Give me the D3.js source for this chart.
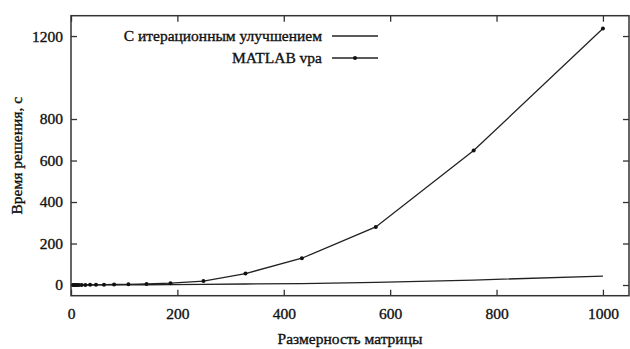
<!DOCTYPE html>
<html>
<head>
    <meta charset="utf-8">
    <style>
        body { margin: 0; background: white; }
        .axis path { display: none; }
        .axis line { stroke: #333; stroke-width: 1.3; }
    </style>
</head>
<body>
    <svg width="630" height="349"></svg>
<script src="https://d3js.org/d3.v7.min.js"></script>
<script>
    // matrix sizes and solve times (seconds)
    let sizes = [4, 5, 7, 9, 12, 15, 20, 27, 36, 47, 62, 81, 108, 142, 187, 249, 328, 434, 573, 757, 1000]
    let vpaTimes = [0.1, 0.1, 0.1, 0.2, 0.2, 0.3, 0.4, 0.5, 0.7, 1, 1.5, 2.5, 3.5, 5, 9, 19, 55, 129, 280, 648, 1236]
    let iterTimes = [0, 0, 0, 0, 0, 0, 0.1, 0.1, 0.1, 0.2, 0.3, 0.5, 0.8, 1.2, 2, 3, 5, 7, 13, 24, 43]
    let xTicks = [0, 200, 400, 600, 800, 1000]
    let yTicks = [0, 200, 400, 600, 800, 1200]
    let seriesNames = ["С итерационным улучшением", "MATLAB vpa"]

    let font = "Liberation Serif"
    let mLeft = 71, mRight = 629, mTop = 15.7, mBottom = 295.7
    let svg = d3.select("svg")

    let x = d3.scaleLinear().domain([0, 1049]).range([mLeft, mRight])
    let y = d3.scaleLinear().domain([-51.5, 1298]).range([mBottom, mTop])

    // scanned-looking text: serif, slightly heavy
    function styleText(sel) {
        sel.style("font-family", font).style("font-size", "15.5px")
            .style("fill", "#111").style("stroke", "#111").style("stroke-width", 0.35)
    }

    // axes with inward ticks
    let axes = [
        svg.append("g").attr("transform", `translate(0,${mBottom})`)
            .call(d3.axisBottom(x).tickValues(xTicks).tickSize(-6).tickPadding(12).tickFormat(d3.format("d"))),
        svg.append("g").attr("transform", `translate(0,${mTop})`)
            .call(d3.axisTop(x).tickValues(xTicks).tickSize(-6).tickFormat("")),
        svg.append("g").attr("transform", `translate(${mLeft},0)`)
            .call(d3.axisLeft(y).tickValues(yTicks).tickSize(-6).tickPadding(8).tickFormat(d3.format("d"))),
        svg.append("g").attr("transform", `translate(${mRight},0)`)
            .call(d3.axisRight(y).tickValues(yTicks).tickSize(-6).tickFormat(""))
    ]
    axes.forEach(g => {
        g.attr("class", "axis")
        g.selectAll("text").call(styleText)
    })

    svg.append("rect")
        .attr("x", mLeft).attr("y", mTop)
        .attr("width", mRight - mLeft).attr("height", mBottom - mTop)
        .style("fill", "none").style("stroke", "#333").style("stroke-width", 1.5)

    let line = d3.line().x(d => x(d[0])).y(d => y(d[1]))

    svg.append("path")
        .datum(d3.zip(sizes, iterTimes))
        .attr("d", line)
        .style("fill", "none").style("stroke", "#222").style("stroke-width", 1.3)

    svg.append("path")
        .datum(d3.zip(sizes, vpaTimes))
        .attr("d", line)
        .style("fill", "none").style("stroke", "#222").style("stroke-width", 1.3)

    svg.append("g")
        .selectAll("circle")
        .data(d3.zip(sizes, vpaTimes))
        .join("circle")
        .attr("cx", d => x(d[0]))
        .attr("cy", d => y(d[1]))
        .attr("r", 2)
        .style("fill", "#111")

    // legend
    let legend = svg.append("g")
    seriesNames.forEach((name, i) => {
        let ly = 36 + i * 22
        legend.append("text")
            .attr("x", 322).attr("y", ly).attr("dy", "0.35em")
            .attr("text-anchor", "end")
            .call(styleText)
            .text(name)
        legend.append("line")
            .attr("x1", 332).attr("x2", 378).attr("y1", ly).attr("y2", ly)
            .style("stroke", "#222").style("stroke-width", 1.3)
        if (i == 1) {
            legend.append("circle").attr("cx", 355).attr("cy", ly).attr("r", 2).style("fill", "#111")
        }
    })

    svg.append("text")
        .attr("x", (mLeft + mRight) / 2).attr("y", 344)
        .attr("text-anchor", "middle")
        .call(styleText)
        .text("Размерность матрицы")

    svg.append("text")
        .attr("transform", `translate(22,${(mTop + mBottom) / 2}) rotate(-90)`)
        .attr("text-anchor", "middle")
        .call(styleText)
        .text("Время решения, с")
</script>
</body>
</html>
